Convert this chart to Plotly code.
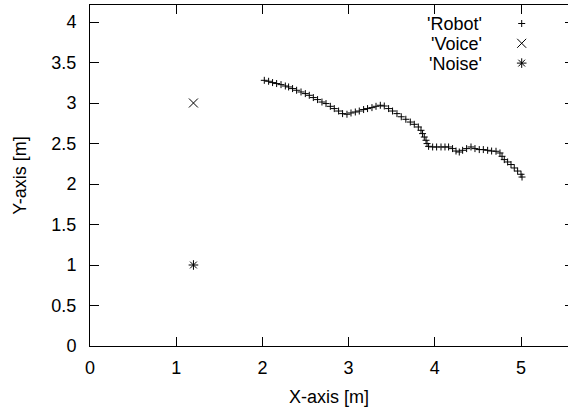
import plotly.graph_objects as go

# ---- data ----
robot_x = [2.022, 2.072, 2.118, 2.165, 2.216, 2.266, 2.304, 2.350, 2.397, 2.448,
           2.498, 2.544, 2.591, 2.640, 2.691, 2.738, 2.788, 2.834, 2.884, 2.930,
           2.981, 3.028, 3.078, 3.124, 3.174, 3.220, 3.271, 3.318, 3.368, 3.414,
           3.464, 3.510, 3.561, 3.611, 3.664, 3.716, 3.762, 3.809, 3.840, 3.858,
           3.878, 3.898, 3.910, 3.928, 3.975, 4.021, 4.072, 4.118, 4.160, 4.206,
           4.246, 4.284, 4.323, 4.369, 4.420, 4.466, 4.516, 4.563, 4.613, 4.659,
           4.710, 4.756, 4.780, 4.806, 4.845, 4.884, 4.922, 4.961, 5.000, 5.012]
robot_y = [3.280, 3.268, 3.252, 3.240, 3.227, 3.210, 3.198, 3.178, 3.157, 3.136,
           3.116, 3.095, 3.067, 3.042, 3.012, 2.993, 2.959, 2.931, 2.901, 2.869,
           2.861, 2.877, 2.889, 2.901, 2.919, 2.931, 2.943, 2.959, 2.972, 2.963,
           2.931, 2.901, 2.869, 2.830, 2.799, 2.765, 2.737, 2.704, 2.663, 2.622,
           2.580, 2.540, 2.499, 2.465, 2.457, 2.457, 2.457, 2.457, 2.457, 2.437,
           2.407, 2.395, 2.416, 2.437, 2.457, 2.437, 2.425, 2.425, 2.416, 2.407,
           2.404, 2.383, 2.342, 2.301, 2.272, 2.240, 2.198, 2.160, 2.120, 2.086]
voice_x = [1.2]
voice_y = [3.0]
noise_x = [1.2]
noise_y = [1.0]

series_names = ["'Robot'", "'Voice'", "'Noise'"]
x_ticks = [0, 1, 2, 3, 4, 5]
y_ticks = [0, 0.5, 1, 1.5, 2, 2.5, 3, 3.5, 4]
y_tick_text = ["0", "0.5", "1", "1.5", "2", "2.5", "3", "3.5", "4"]

# ---- style / layout ----
FONT = "Liberation Sans, Arial, sans-serif"
FS = 18
W, H = 568, 409
ML, MR, MT, MB = 90, 0, 5, 63
XMAX = (W - ML - MR) / 86.2
YMAX = (H - MT - MB) / 81.0

fig = go.Figure()

sym = {"'Robot'": ("cross-thin", 5), "'Voice'": ("x-thin", 9), "'Noise'": ("asterisk", 8)}

for name, xs, ys in [(series_names[0], robot_x, robot_y),
                     (series_names[1], voice_x, voice_y),
                     (series_names[2], noise_x, noise_y)]:
    s, sz = sym[name]
    fig.add_trace(go.Scatter(
        x=xs, y=ys, mode="markers", name=name, showlegend=False,
        marker=dict(symbol=s, size=sz, color="black",
                    line=dict(color="black", width=1)),
        xaxis="x", yaxis="y"))

# legend keys (layout positions in paper pixels)
key_px = 521.7
key_rows = [23.5, 43.3, 63.1]
text_right = 483
for name, py in zip(series_names, key_rows):
    s, sz = sym[name]
    fig.add_trace(go.Scatter(
        x=[(key_px - ML) / (W - ML - MR)], y=[1 - (py - MT) / (H - MT - MB)],
        mode="markers", showlegend=False, hoverinfo="skip",
        marker=dict(symbol=s, size=sz, color="black",
                    line=dict(color="black", width=1)),
        xaxis="x3", yaxis="y3"))
    fig.add_annotation(
        x=(text_right - ML) / (W - ML - MR), y=1 - (py - MT) / (H - MT - MB),
        xref="paper", yref="paper", text=name, showarrow=False,
        xanchor="right", yanchor="middle", height=19, borderpad=0,
        font=dict(family=FONT, size=FS, color="black"))

axis_common = dict(showgrid=False, zeroline=False, showline=True,
                   linecolor="black", linewidth=1, ticks="inside",
                   ticklen=9, tickcolor="black", tickwidth=1,
                   tickfont=dict(family=FONT, size=FS, color="black"))

fig.update_layout(
    width=W, height=H,
    margin=dict(l=ML, r=MR, t=MT, b=MB, pad=0),
    paper_bgcolor="white", plot_bgcolor="white",
    showlegend=False,
    xaxis=dict(range=[0, XMAX], tickvals=x_ticks, mirror="ticks",
               ticklabelstandoff=5,
               title=dict(text="X-axis [m]", font=dict(family=FONT, size=FS, color="black"),
                          standoff=13),
               **axis_common),
    yaxis=dict(range=[0, YMAX], tickvals=y_ticks, ticktext=y_tick_text,
               mirror=False, ticklabelstandoff=9,
               title=dict(text="Y-axis [m]", font=dict(family=FONT, size=FS, color="black"),
                          standoff=20),
               **axis_common),
    yaxis2=dict(overlaying="y", side="right", range=[0, YMAX], tickvals=y_ticks,
                showticklabels=False, showline=False, showgrid=False, zeroline=False,
                ticks="inside", ticklen=3, tickcolor="black", tickwidth=1),
    xaxis3=dict(overlaying="x", range=[0, 1], visible=False),
    yaxis3=dict(overlaying="y", range=[0, 1], visible=False),
)

# dummy trace to activate yaxis2
fig.add_trace(go.Scatter(x=[None], y=[None], xaxis="x", yaxis="y2",
                         showlegend=False, hoverinfo="skip"))

fig.write_html("out.html")
